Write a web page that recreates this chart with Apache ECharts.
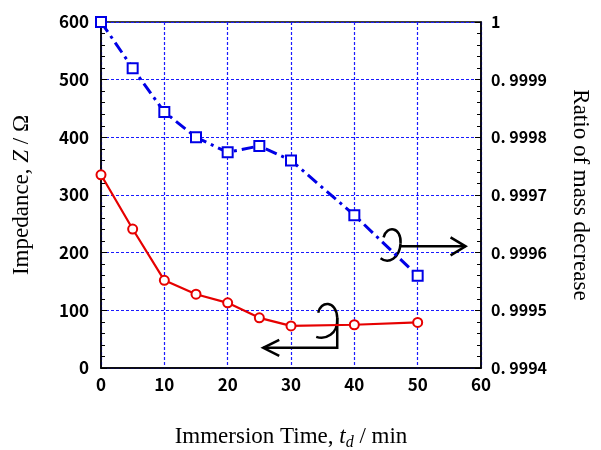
<!DOCTYPE html>
<html>
<head>
<meta charset="utf-8">
<script src="https://cdn.jsdelivr.net/npm/echarts@6/dist/echarts.min.js"></script>
<style>
html, body { margin: 0; padding: 0; background: #fff; }
#main { width: 601px; height: 450px; }
</style>
</head>
<body>
<div id="main"></div>
<script>
// immersion time (min)
const times = [0, 5, 10, 15, 20, 25, 30, 40, 50];
// impedance Z (ohm), left axis
const impedance = [335, 241, 152, 128, 113, 87, 73, 75, 79];
// ratio of mass decrease, right axis
const massRatio = [1.0, 0.99992, 0.999844, 0.9998, 0.999774, 0.999785, 0.99976, 0.999665, 0.99956];

const chart = echarts.init(document.getElementById('main'));

const labelFont = { color: '#000', fontSize: 17, fontWeight: 'bold', fontFamily: 'Noto Sans CJK JP' };
const nameFont = { color: '#000', fontSize: 23, fontFamily: 'Liberation Serif' };
const gridLine = { show: true, lineStyle: { color: '#1a1aff', type: [3, 2], width: 1.2 } };

chart.setOption({
    backgroundColor: '#fff',
    animation: false,
    grid: {
        left: 101, right: 120, top: 22, bottom: 82,
        containLabel: false,
        outerBoundsMode: 'none',
        show: true, borderColor: '#000', borderWidth: 1.5
    },
    xAxis: {
        type: 'value',
        min: 0, max: 60, interval: 10,
        name: '{n|Immersion Time, }{i|t}{s|d}{n| / min}',
        nameLocation: 'middle',
        nameGap: 55,
        nameTextStyle: {
            rich: {
                n: nameFont,
                i: Object.assign({}, nameFont, { fontStyle: 'italic' }),
                s: Object.assign({}, nameFont, { fontStyle: 'italic', fontSize: 16, padding: [12, 0, 0, 0] })
            }
        },
        axisLine: { lineStyle: { color: '#000', width: 1.5 } },
        axisTick: { show: false },
        axisLabel: Object.assign({ margin: 8 }, labelFont),
        splitLine: gridLine
    },
    yAxis: [{
        type: 'value',
        min: 0, max: 600, interval: 100,
        position: 'left',
        name: '{n|Impedance, }{i|Z}{n| / Ω}',
        nameLocation: 'middle',
        nameRotate: 90,
        nameGap: 68,
        nameTextStyle: {
            rich: {
                n: nameFont,
                i: Object.assign({}, nameFont, { fontStyle: 'italic' })
            }
        },
        axisLine: { show: true, lineStyle: { color: '#000', width: 1.5 } },
        axisTick: { show: true, inside: true, length: 6, lineStyle: { color: '#000' } },
        minorTick: { show: true, splitNumber: 5, length: 4, lineStyle: { color: '#000' } },
        axisLabel: Object.assign({ margin: 12 }, labelFont),
        splitLine: gridLine
    }, {
        type: 'value',
        min: 0.9994, max: 1, interval: 0.0001,
        position: 'right',
        name: 'Ratio of mass decrease',
        nameLocation: 'middle',
        nameRotate: -90,
        nameGap: 88,
        nameTextStyle: nameFont,
        axisLine: { show: true, lineStyle: { color: '#000', width: 1.5 } },
        axisTick: { show: true, inside: true, length: 6, lineStyle: { color: '#000' } },
        minorTick: { show: true, splitNumber: 5, length: 4, lineStyle: { color: '#000' } },
        axisLabel: Object.assign({
            margin: 10,
            formatter: v => {
                if (Math.abs(v - 1) < 1e-9) return '1';
                return v.toFixed(4).replace('0.', '0. ');
            }
        }, labelFont, { fontSize: 16 }),
        splitLine: { show: false }
    }],
    series: [{
        type: 'line',
        yAxisIndex: 1,
        data: times.map((t, i) => [t, massRatio[i]]),
        symbol: 'emptyRect',
        symbolSize: 10,
        color: '#0000e6',
        lineStyle: { color: '#0000e6', width: 3, type: [12, 5, 3, 5] },
        itemStyle: { borderWidth: 1.3 },
        z: 3
    }, {
        type: 'line',
        yAxisIndex: 0,
        data: times.map((t, i) => [t, impedance[i]]),
        symbol: 'emptyCircle',
        symbolSize: 9,
        color: '#e60000',
        lineStyle: { color: '#e60000', width: 2.2 },
        itemStyle: { borderWidth: 1.3 },
        z: 4
    }]
});

// curl + arrow annotations, anchored through the axes
function curve(x1, y1, c1x, c1y, c2x, c2y, x2, y2, st) {
    return { type: 'bezierCurve', shape: { x1: x1, y1: y1, cpx1: c1x, cpy1: c1y, cpx2: c2x, cpy2: c2y, x2: x2, y2: y2 }, style: st };
}
function arrows() {
    const a = chart.convertToPixel({ gridIndex: 0 }, [37.3, 35]);
    const b = chart.convertToPixel({ gridIndex: 0 }, [47.3, 211]);
    const st = { stroke: '#000', lineWidth: 2.5, fill: null };
    chart.setOption({
        graphic: [{
            type: 'group', x: a[0], y: a[1], z: 10,
            children: [
                curve(-19, -35, -17, -47, -1, -48, 0, -30, st),
                curve(0, -30, 1, -13, -12, -8, -21, -11, st),
                { type: 'polyline', shape: { points: [[0, -30], [0, 0], [-74, 0]] }, style: st },
                { type: 'polyline', shape: { points: [[-58, -8], [-74, 0], [-58, 8]] }, style: st }
            ]
        }, {
            type: 'group', x: b[0], y: b[1], z: 10,
            children: [
                curve(-17, -9, -14, -21, 1, -20, 0, -3, st),
                curve(0, -3, -1, 12, -12, 18, -20, 12, st),
                { type: 'polyline', shape: { points: [[0, 0], [65, 0]] }, style: st },
                { type: 'polyline', shape: { points: [[50, -9], [65, 0], [50, 9]] }, style: st }
            ]
        }]
    });
}
arrows();
</script>
</body>
</html>
